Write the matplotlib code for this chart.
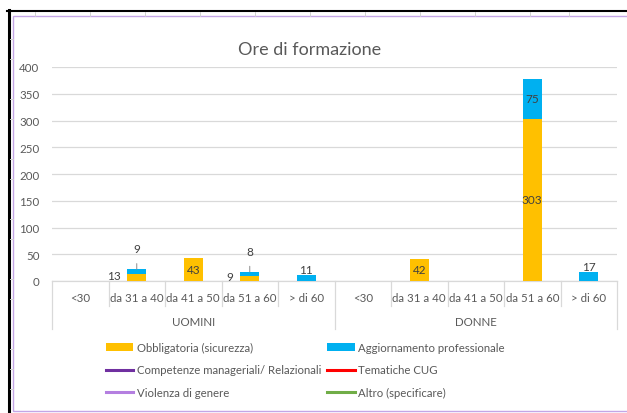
import matplotlib.pyplot as plt
import matplotlib.patches as mpatches
from matplotlib.lines import Line2D
import numpy as np

plt.rcParams['font.family'] = ['Lato', 'DejaVu Sans']

# dati
fasce = ['<30', 'da 31 a 40', 'da 41 a 50', 'da 51 a 60', '> di 60']
gruppi = ['UOMINI', 'DONNE']
obbligatoria = [0, 13, 43, 9, 0, 0, 42, 0, 303, 0]
aggiornamento = [0, 9, 0, 8, 11, 0, 0, 0, 75, 17]
competenze = [None] * 10
tematiche_cug = [None] * 10
violenza = [None] * 10
altro = [None] * 10
yticks = [0, 50, 100, 150, 200, 250, 300, 350, 400]

W, H = 627, 414
fig = plt.figure(figsize=(W / 100, H / 100), dpi=100)

# cornice foglio excel
fig.add_artist(Line2D([8.5 / W, 8.5 / W], [0, 1 - 11 / H], color='black', lw=2.2, transform=fig.transFigure))
fig.add_artist(Line2D([7 / W, 1], [1 - 11.5 / H, 1 - 11.5 / H], color='black', lw=1.5, transform=fig.transFigure))
for gx in [35, 90, 145, 200, 255, 310, 365, 420, 475, 530, 569]:
    fig.add_artist(Line2D([gx / W, gx / W], [1 - 17 / H, 1 - 12.5 / H], color='#D0D0D0', lw=0.7, transform=fig.transFigure))
for gy in [40, 60, 100, 120, 160, 180, 220, 240, 280, 300, 350, 370, 390]:
    fig.add_artist(Line2D([10 / W, 13 / W], [1 - gy / H, 1 - gy / H], color='#D0D0D0', lw=0.7, transform=fig.transFigure))
fig.add_artist(mpatches.Rectangle((13 / W, 2 / H), 1, 1 - 19 / H, fill=False, edgecolor='#C4A6E6',
                                  lw=1.0, transform=fig.transFigure))

ax = fig.add_axes([52 / W, 132 / H, 565 / W, 214 / H])
x = np.arange(len(obbligatoria))
largh = 0.33
c_giallo = '#FFC000'
c_blu = '#00B0F0'
b1 = ax.bar(x, obbligatoria, largh, color=c_giallo, zorder=3)
b2 = ax.bar(x, aggiornamento, largh, bottom=obbligatoria, color=c_blu, zorder=3)
l1, = ax.plot(x, competenze, color='#7030A0', lw=2.2)
l2, = ax.plot(x, tematiche_cug, color='#FF0000', lw=2.2)
l3, = ax.plot(x, violenza, color='#B47FE0', lw=2.2)
l4, = ax.plot(x, altro, color='#70AD47', lw=2.2)

ax.set_xlim(-0.5, len(x) - 0.5)
ax.set_ylim(0, 400)
ax.set_yticks(yticks)
ax.tick_params(axis='y', length=0, pad=9, labelsize=8.3, labelcolor='#595959')
ax.set_xticks([])
ax.grid(axis='y', color='#D9D9D9', lw=0.9, zorder=0)
for s in ['top', 'right', 'left']:
    ax.spines[s].set_visible(False)
ax.spines['bottom'].set_color('#D9D9D9')
ax.spines['bottom'].set_linewidth(0.9)

# etichette categorie
trans = ax.get_xaxis_transform()
etichette = fasce * len(gruppi)
for i, lab in enumerate(etichette):
    ax.text(i, -0.075, lab, transform=trans, ha='center', va='center', fontsize=8.3, color='#595959')
for g, nome in enumerate(gruppi):
    ax.text(g * 5 + 2, -0.187, nome, transform=trans, ha='center', va='center', fontsize=8.3, color='#595959')
for k in range(len(x) + 1):
    basso = -0.224 if k % 5 == 0 else -0.117
    ax.plot([k - 0.5, k - 0.5], [0, basso], transform=trans, color='#D9D9D9', lw=0.9, clip_on=False)

# etichette dati
col_lab = '#404040'


def etichetta(i, y, testo, dx=0, dy=0, ha='center', leader=False):
    ax.annotate(testo, (i, y), xytext=(dx, dy), textcoords='offset points', ha=ha, va='center',
                fontsize=8.5, color=col_lab, zorder=5,
                arrowprops=dict(arrowstyle='-', color='#8C8C8C', lw=0.7, shrinkA=5, shrinkB=0) if leader else None)


for i in x:
    o = obbligatoria[i]
    a = aggiornamento[i]
    if o > 0:
        if o < 20:
            # troppo basso: etichetta a sinistra della barra
            etichetta(i - largh / 2, o / 2, str(o), dx=-5, dy=1.5, ha='right')
        else:
            etichetta(i, o / 2, str(o))
    if a > 0:
        if o > 0 and a < 20:
            etichetta(i, o + a, str(a), dy=15, leader=True)
        elif o == 0:
            etichetta(i, o + a, str(a), dy=4)
        else:
            etichetta(i, o + a / 2, str(a))

fig.text(310 / W, 1 - 50 / H, 'Ore di formazione', ha='center', va='center', fontsize=13, color='#595959')

handles = [b1, l1, l3, b2, l2, l4]
labels = ['Obbligatoria (sicurezza)', 'Competenze manageriali/ Relazionali', 'Violenza di genere',
          'Aggiornamento professionale', 'Tematiche CUG', 'Altro (specificare)']
fig.legend(handles, labels, ncol=2, loc='upper left', bbox_to_anchor=(106 / W, 1 - 343 / H),
           frameon=False, fontsize=8.2, labelcolor='#595959', borderpad=0, borderaxespad=0,
           handlelength=2.4, handleheight=0.6, handletextpad=0.3, labelspacing=1.0, columnspacing=0.55)

fig.savefig('out.png', dpi=100)
